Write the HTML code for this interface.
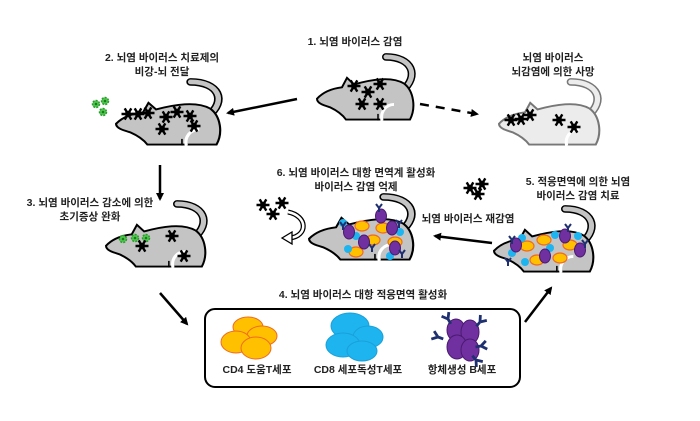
<!DOCTYPE html>
<html><head><meta charset="utf-8"><style>
html,body{margin:0;padding:0;background:#fff;}
svg{display:block;font-family:"Liberation Sans","Noto Sans CJK KR","NanumGothic",sans-serif;}
text{font-size:10.5px;font-weight:bold;fill:#222;text-anchor:middle;}
</style></head><body>
<svg width="700" height="421" viewBox="0 0 700 421" xmlns="http://www.w3.org/2000/svg">
<defs>
<g id="mouse">
 <path d="M86,38 C104,22 96,2 70,2" fill="none" stroke="#000" stroke-width="8" stroke-linecap="round"/>
 <path d="M86,38 C104,22 96,2 70,2" fill="none" stroke="#c4c4c4" stroke-width="5" stroke-linecap="round"/>
 <path d="M1,46 C8,38 18,35 26,34 L31,24 L38,31 C55,26 75,22 88,30 C98,38 100,56 94,68 L30,68 C26,62 20,58 14,55 C8,53 1,51 1,46 Z" fill="#c4c4c4" stroke="#000" stroke-width="2"/>
 <path d="M66,69 C64,60 70,52 78,52" fill="none" stroke="#fff" stroke-width="3"/>
 <path d="M62,69 L62,62" stroke="#000" stroke-width="1.5"/>
</g>
<g id="dmouse">
 <path d="M86,38 C104,22 96,2 70,2" fill="none" stroke="#777" stroke-width="8" stroke-linecap="round"/>
 <path d="M86,38 C104,22 96,2 70,2" fill="none" stroke="#ececec" stroke-width="5" stroke-linecap="round"/>
 <path d="M1,46 C8,38 18,35 26,34 L31,24 L38,31 C55,26 75,22 88,30 C98,38 100,56 94,68 L30,68 C26,62 20,58 14,55 C8,53 1,51 1,46 Z" fill="#ececec" stroke="#777" stroke-width="2"/>
 <path d="M66,69 C64,60 70,52 78,52" fill="none" stroke="#fff" stroke-width="3"/>
</g>
<g id="st"><path d="M-6.5,0H6.5M-3.3,-5.6L3.3,5.6M3.3,-5.6L-3.3,5.6" stroke="#000" stroke-width="2.4"/><circle r="3.2"/></g>
<g id="gr"><circle r="3.5" fill="#4fc84f" stroke="#2a9a2a" stroke-width="1.5" stroke-dasharray="2 1.2"/><circle r="1.3" fill="#1a7a1a"/></g>
<g id="cd4"><ellipse rx="7" ry="5" fill="#ffc000" stroke="#f06a20" stroke-width="1.2"/></g>
<g id="cd8"><circle r="4" fill="#1eb4f0"/></g>
<g id="bc"><ellipse rx="5.5" ry="7" fill="#7030a0" stroke="#4a1a70" stroke-width="1"/></g>
<g id="ab"><path d="M0,4V0M0,0L-3,-4M0,0L3,-4" stroke="#1f3070" stroke-width="2" fill="none"/></g>
<marker id="ah" markerWidth="8" markerHeight="8" refX="6" refY="4" orient="auto" markerUnits="userSpaceOnUse"><path d="M0,0L8,4L0,8Z" fill="#000"/></marker>
</defs>

<text x="355" y="45">1. 뇌염 바이러스 감염</text>
<text x="162" y="61">2. 뇌염 바이러스 치료제의</text>
<text x="162" y="75">비강-뇌 전달</text>
<text x="553" y="61">뇌염 바이러스</text>
<text x="553" y="75">뇌감염에 의한 사망</text>
<text x="90" y="206">3. 뇌염 바이러스 감소에 의한</text>
<text x="90" y="220">초기증상 완화</text>
<text x="356" y="176">6. 뇌염 바이러스 대항 면역계 활성화</text>
<text x="356" y="190">바이러스 감염 억제</text>
<text x="578" y="185">5. 적응면역에 의한 뇌염</text>
<text x="578" y="199">바이러스 감염 치료</text>
<text x="468" y="222">뇌염 바이러스 재감염</text>
<text x="363" y="298">4. 뇌염 바이러스 대항 적응면역 활성화</text>

<g stroke="#000" stroke-width="2.5" fill="none" marker-end="url(#ah)">
<line x1="297" y1="99" x2="228" y2="113"/>
<line x1="420" y1="104" x2="477" y2="114" stroke-dasharray="9 7"/>
<line x1="160" y1="165" x2="160" y2="199"/>
<line x1="160" y1="293" x2="187" y2="324"/>
<line x1="525" y1="322" x2="551" y2="288"/>
<line x1="492" y1="243" x2="435" y2="236"/>
</g>

<use href="#mouse" transform="translate(316,55) scale(1.0,0.95)"/>
<use href="#st" x="354" y="86"/><use href="#st" x="368" y="92"/><use href="#st" x="380" y="84"/><use href="#st" x="362" y="104"/><use href="#st" x="380" y="104"/>

<use href="#mouse" transform="translate(115,80) scale(1.08,0.95)"/>
<use href="#st" x="128" y="114"/><use href="#st" x="138" y="114"/><use href="#st" x="148" y="113"/>
<use href="#st" x="166" y="117"/><use href="#st" x="177" y="112"/><use href="#st" x="190" y="116"/><use href="#st" x="162" y="129"/><use href="#st" x="194" y="126"/>
<use href="#gr" x="96" y="104"/><use href="#gr" x="105" y="101"/><use href="#gr" x="103" y="112"/>

<use href="#dmouse" transform="translate(498,80) scale(1.04,0.95)"/>
<use href="#st" x="511" y="120"/><use href="#st" x="521" y="119"/><use href="#st" x="530" y="115"/><use href="#st" x="559" y="120"/><use href="#st" x="574" y="127"/>

<use href="#mouse" transform="translate(105,202) scale(1.03,0.95)"/>
<use href="#gr" x="123" y="239"/><use href="#gr" x="135" y="238"/><use href="#gr" x="146" y="238"/>
<use href="#st" x="142" y="246"/><use href="#st" x="172" y="236"/><use href="#st" x="184" y="256"/>

<use href="#mouse" transform="translate(308,195) scale(1.08,0.95)"/>
<g>
<use href="#cd4" x="362" y="226"/><use href="#cd4" x="383" y="228"/><use href="#cd4" x="373" y="240"/><use href="#cd4" x="356" y="252"/><use href="#cd4" x="395" y="242"/>
<use href="#cd8" x="343" y="223"/><use href="#cd8" x="356" y="236"/><use href="#cd8" x="380" y="218"/><use href="#cd8" x="390" y="256"/><use href="#cd8" x="348" y="249"/><use href="#cd8" x="400" y="232"/>
<use href="#bc" x="349" y="232"/><use href="#bc" x="381" y="216"/><use href="#bc" x="392" y="228"/><use href="#bc" x="364" y="242"/><use href="#bc" x="395" y="248"/>
<use href="#ab" x="343" y="226"/><use href="#ab" x="379" y="208"/><use href="#ab" x="399" y="224"/><use href="#ab" x="372" y="248"/><use href="#ab" x="402" y="254"/>
</g>
<use href="#st" x="263" y="205"/><use href="#st" x="282" y="203"/><use href="#st" x="273" y="214"/>
<path d="M288,212 C308,216 308,236 290,238" fill="none" stroke="#000" stroke-width="5"/>
<path d="M288,212 C308,216 308,236 290,238" fill="none" stroke="#fff" stroke-width="2.5"/>
<path d="M282,238 L292,232 L292,244 Z" fill="#fff" stroke="#000" stroke-width="1.3"/>
<use href="#st" x="470" y="188"/><use href="#st" x="482" y="184"/><use href="#st" x="478" y="194"/>

<use href="#mouse" transform="translate(493,207) scale(1.03,0.95)"/>
<g>
<use href="#cd4" x="544" y="240"/><use href="#cd4" x="527" y="246"/><use href="#cd4" x="560" y="258"/><use href="#cd4" x="537" y="260"/><use href="#cd4" x="570" y="245"/>
<use href="#cd8" x="522" y="238"/><use href="#cd8" x="555" y="235"/><use href="#cd8" x="512" y="253"/><use href="#cd8" x="550" y="248"/><use href="#cd8" x="578" y="236"/><use href="#cd8" x="525" y="262"/>
<use href="#bc" x="516" y="245"/><use href="#bc" x="565" y="236"/><use href="#bc" x="580" y="250"/><use href="#bc" x="545" y="256"/>
<use href="#ab" x="512" y="240"/><use href="#ab" x="568" y="228"/><use href="#ab" x="585" y="244"/><use href="#ab" x="508" y="262"/>
</g>

<rect x="205" y="309" width="315" height="78" rx="10" fill="#fff" stroke="#000" stroke-width="2"/>
<g stroke="#f06a20" stroke-width="1" fill="#ffc000">
<ellipse cx="248" cy="327" rx="15" ry="10"/>
<ellipse cx="262" cy="336" rx="15" ry="10"/>
<ellipse cx="236" cy="342" rx="15" ry="11"/>
<ellipse cx="256" cy="348" rx="15" ry="11"/>
</g>
<g fill="#1eb4f0" stroke="#1aa0d8">
<ellipse cx="350" cy="326" rx="19" ry="13"/>
<ellipse cx="368" cy="337" rx="15" ry="11"/>
<ellipse cx="343" cy="345" rx="17" ry="12"/>
<ellipse cx="362" cy="351" rx="15" ry="10"/>
</g>
<g fill="#7030a0" stroke="#4a1a70">
<ellipse cx="456" cy="330" rx="9" ry="11"/>
<ellipse cx="470" cy="332" rx="9" ry="12"/>
<ellipse cx="457" cy="347" rx="10" ry="12"/>
<ellipse cx="470" cy="350" rx="9" ry="11"/>
</g>
<use href="#ab" transform="translate(448,319) rotate(-30) scale(1.4)"/>
<use href="#ab" transform="translate(480,322) rotate(40) scale(1.4)"/>
<use href="#ab" transform="translate(438,337) rotate(-70) scale(1.4)"/>
<use href="#ab" transform="translate(481,346) rotate(80) scale(1.4)"/>
<use href="#ab" transform="translate(476,360) rotate(140) scale(1.4)"/>
<text x="257" y="373">CD4 도움T세포</text>
<text x="358" y="373">CD8 세포독성T세포</text>
<text x="462" y="373">항체생성 B세포</text>
</svg>
</body></html>
